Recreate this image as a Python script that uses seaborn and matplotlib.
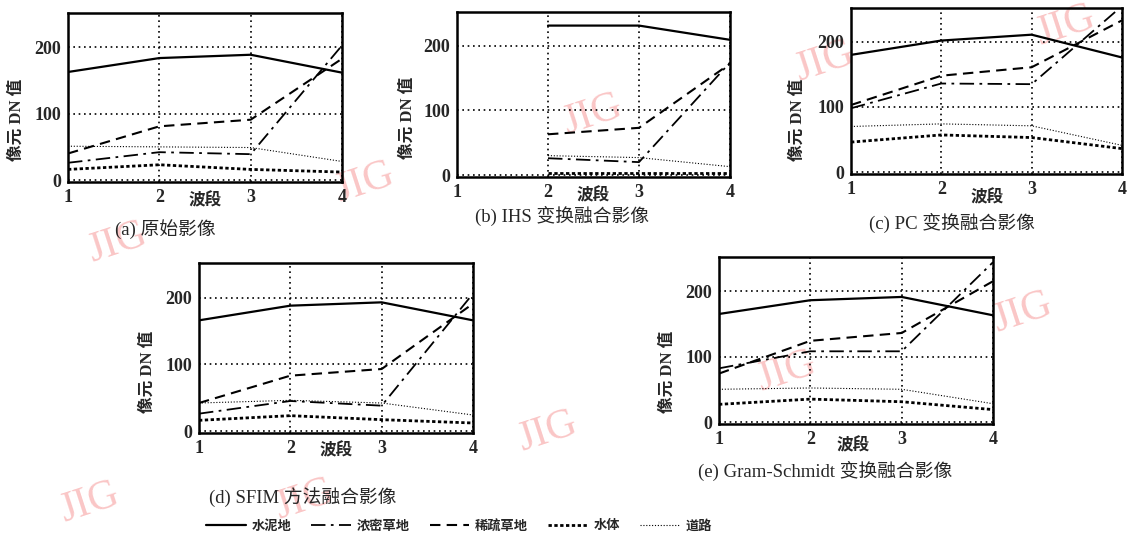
import numpy as np
import pandas as pd
import matplotlib
matplotlib.use("Agg")
import matplotlib.pyplot as plt
import seaborn as sns

sns.set_theme(style="white")
plt.rcParams['font.family'] = ['Liberation Serif', 'Noto Sans CJK SC', 'DejaVu Sans']

bands = [1, 2, 3, 4]
series_names = ["水泥地", "浓密草地", "稀疏草地", "水体", "道路"]

# panel values: 水泥地, 浓密草地, 稀疏草地, 水体, 道路
a_cement = [163, 184, 189, 162]
a_dense = [26, 42, 39, 203]
a_sparse = [40, 81, 91, 183]
a_water = [16, 23, 16, 12]
a_road = [51, 50, 49, 28]

b_cement = [np.nan, 231, 231, 209]
b_dense = [np.nan, 26, 20, 174]
b_sparse = [np.nan, 63, 73, 172]
b_water = [np.nan, 3, 3, 3]
b_road = [np.nan, 30, 27, 13]

c_cement = [180, 202, 211, 176]
c_dense = [98, 136, 135, 255]
c_sparse = [103, 148, 161, 233]
c_water = [46, 57, 53, 36]
c_road = [70, 74, 71, 41]

d_cement = [166, 188, 193, 166]
d_dense = [26, 45, 38, 206]
d_sparse = [42, 83, 93, 191]
d_water = [16, 23, 17, 12]
d_road = [42, 46, 42, 24]

e_cement = [165, 186, 191, 163]
e_dense = [82, 108, 108, 244]
e_sparse = [74, 124, 136, 215]
e_water = [27, 35, 31, 19]
e_road = [50, 52, 50, 28]

captions = ["(a) 原始影像", "(b) IHS 变换融合影像", "(c) PC 变换融合影像",
            "(d) SFIM 方法融合影像", "(e) Gram-Schmidt 变换融合影像"]
xlabel = "波段"
ylabel = "像元 DN 值"
yticks = [0, 100, 200]

panels = [
    [a_cement, a_dense, a_sparse, a_water, a_road],
    [b_cement, b_dense, b_sparse, b_water, b_road],
    [c_cement, c_dense, c_sparse, c_water, c_road],
    [d_cement, d_dense, d_sparse, d_water, d_road],
    [e_cement, e_dense, e_sparse, e_water, e_road],
]

styles = [
    dict(linestyle='-', lw=1.6),
    dict(linestyle=(0, (8, 3, 1.5, 3)), lw=1.3),
    dict(linestyle=(0, (5, 3)), lw=1.5),
    dict(linestyle=(0, (1.2, 0.9)), lw=2.0),
    dict(linestyle=(0, (1, 1.6)), lw=0.8),
]

W, H = 1127, 538
fig = plt.figure(figsize=(W / 100, H / 100), dpi=100)


def rect(l, r, t, b):
    return [l / W, 1 - b / H, (r - l) / W, (b - t) / H]


def ftext(x, y, s, **kw):
    return fig.text(x / W, 1 - y / H, s, **kw)


ax_rects = [rect(68, 342, 13, 182), rect(457, 730, 12, 177), rect(851, 1122, 8, 174),
            rect(199, 473, 263, 433), rect(719, 993, 257, 424)]
xlabel_pos = [(205, 201), (593, 196), (987, 198), (336, 451), (853, 446)]
caption_pos = [(165, 229), (562, 216), (952, 223), (303, 498), (825, 471)]
ylabel_pos = [(17, 120), (408, 118), (798, 120), (148, 372), (668, 372)]

handles = None
for i, vals in enumerate(panels):
    ax = fig.add_axes(ax_rects[i])
    ax.set_facecolor('none')
    for name, v, st in zip(series_names, vals, styles):
        df = pd.DataFrame({"band": bands, "dn": v})
        sns.lineplot(data=df, x="band", y="dn", ax=ax, color='black',
                     label=name, legend=False, **st)
    ax.set_xlim(1, 4)
    ax.set_ylim(-3, 252)
    ax.set_xticks(bands)
    ax.set_yticks(yticks)
    ax.set_xlabel("")
    ax.set_ylabel("")
    ax.grid(True, color='black', linestyle=(0, (1, 2.2)), lw=1.2)
    ax.tick_params(length=0, pad=5, labelsize=13)
    for lab in ax.get_xticklabels() + ax.get_yticklabels():
        lab.set_fontweight('bold')
        lab.set_family('Liberation Serif')
    for sp in ax.spines.values():
        sp.set_color('black')
        sp.set_linewidth(1.8)
    if handles is None:
        handles = list(ax.lines[:5])
    ftext(*xlabel_pos[i], xlabel, ha='center', va='center', fontsize=12, fontweight='bold')
    ftext(*caption_pos[i], captions[i], ha='center', va='center', fontsize=13.5)
    ftext(*ylabel_pos[i], ylabel, ha='center', va='center', rotation=90, fontsize=12,
          fontweight='bold')

leg = fig.legend(handles, series_names, loc='center', bbox_to_anchor=(459 / W, 1 - 526 / H),
                 ncol=5, frameon=False, handlelength=3.0, columnspacing=1.5,
                 handletextpad=0.45, prop=dict(size=9.5, weight='bold'))

# faint watermarks
wm = [(365, 183), (118, 243), (593, 115), (825, 62), (1066, 26), (548, 432),
      (90, 503), (1023, 313), (787, 372), (305, 500)]
for (x, y) in wm:
    ftext(x, y, "JIG", ha='center', va='center', fontsize=30, color='#fac6c6',
          rotation=18, zorder=-1, family='Liberation Serif')

fig.savefig("out.png", dpi=100)
